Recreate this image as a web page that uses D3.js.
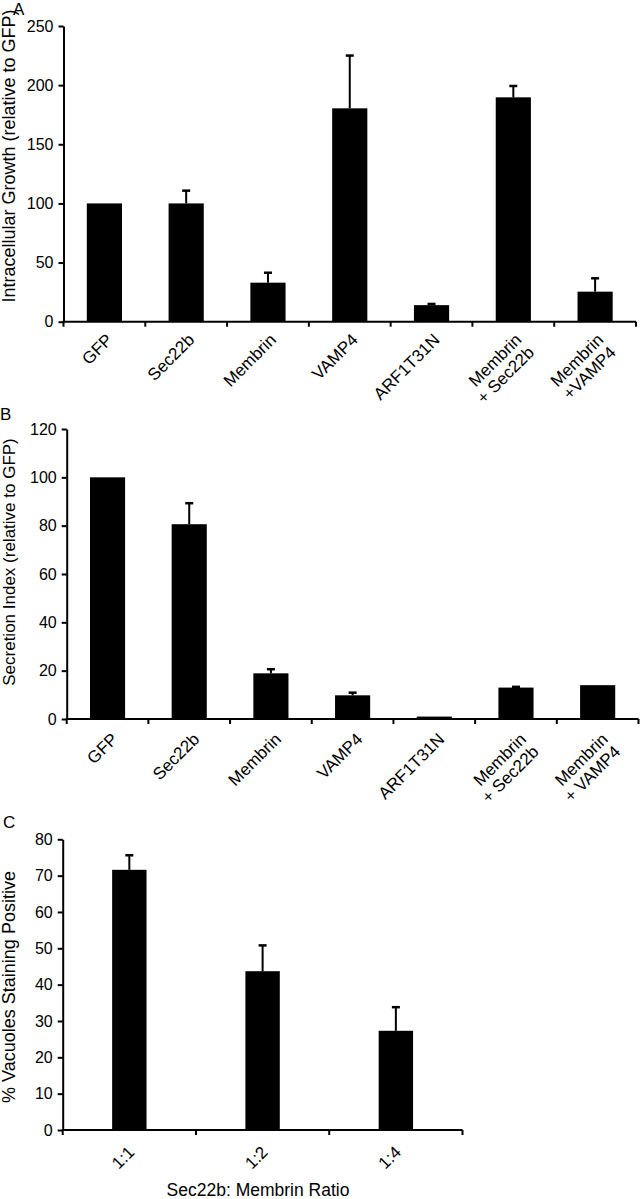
<!DOCTYPE html>
<html>
<head>
<meta charset="utf-8">
<script src="https://cdn.jsdelivr.net/npm/d3@7"></script>
<style>
  html, body { margin: 0; padding: 0; background: #fff; }
  svg { display: block; font-family: "Liberation Sans", Arial, sans-serif; }
</style>
</head>
<body>
<svg id="chart" width="641" height="1199"></svg>
<script>
// ---- Data ----
const labelsA = ["GFP", "Sec22b", "Membrin", "VAMP4", "ARF1T31N", "Membrin|+ Sec22b", "Membrin|+VAMP4"];
const valuesA = [100, 100, 33, 180.4, 14, 189.7, 25.4];
const errorsA = [0, 10.8, 8.4, 44.6, 1, 9.6, 11.3];
const ticksA = [0, 50, 100, 150, 200, 250];

const labelsB = ["GFP", "Sec22b", "Membrin", "VAMP4", "ARF1T31N", "Membrin|+ Sec22b", "Membrin|+ VAMP4"];
const valuesB = [100, 80.6, 18.9, 9.8, 1, 13, 14];
const errorsB = [0, 8.7, 1.7, 1.1, 0, 0.3, 0];
const ticksB = [0, 20, 40, 60, 80, 100, 120];

const labelsC = ["1:1", "1:2", "1:4"];
const valuesC = [71.6, 43.7, 27.3];
const errorsC = [4, 7.1, 6.5];
const ticksC = [0, 10, 20, 30, 40, 50, 60, 70, 80];

const titleA = "Intracellular Growth (relative to GFP)";
const titleB = "Secretion Index (relative to GFP)";
const titleC = "% Vacuoles Staining Positive";
const xTitleC = "Sec22b: Membrin Ratio";

const svg = d3.select("#chart");

function panel(o) {
  const g = svg.append("g");
  const y = d3.scaleLinear().domain([0, d3.max(o.ticks)]).range([o.y0, o.y1]);
  const x = d3.scaleBand().domain(d3.range(o.labels.length))
    .range([o.x0, o.x1]).paddingInner(o.pad).paddingOuter(o.pad / 2);
  const bw = x.bandwidth(), step = x.step();

  // bars
  g.selectAll("rect.bar").data(o.values).join("rect")
    .attr("x", (d, i) => x(i))
    .attr("y", d => y(d))
    .attr("width", bw)
    .attr("height", d => o.y0 - y(d))
    .attr("fill", "#000");

  // error bars
  const eb = o.values.map((v, i) => ({ i, v, e: o.errors[i] })).filter(d => d.e > 0);
  g.selectAll("line.err").data(eb).join("line")
    .attr("x1", d => x(d.i) + bw / 2).attr("x2", d => x(d.i) + bw / 2)
    .attr("y1", d => y(d.v)).attr("y2", d => y(d.v + d.e))
    .attr("stroke", "#000").attr("stroke-width", 2);
  g.selectAll("line.cap").data(eb).join("line")
    .attr("x1", d => x(d.i) + bw / 2 - 4).attr("x2", d => x(d.i) + bw / 2 + 4)
    .attr("y1", d => y(d.v + d.e)).attr("y2", d => y(d.v + d.e))
    .attr("stroke", "#000").attr("stroke-width", 2.5);

  // y axis
  const ya = g.append("g").attr("transform", `translate(${o.x0},0)`)
    .call(d3.axisLeft(y).tickValues(o.ticks).tickSize(5).tickPadding(5).tickSizeOuter(0));
  ya.select(".domain").attr("stroke", "#000").attr("stroke-width", 2);
  ya.selectAll(".tick line").attr("stroke", "#000").attr("stroke-width", 2);
  ya.selectAll(".tick text").attr("fill", "#000").style("font-size", "16px")
    .style("font-family", '"Liberation Sans", Arial, sans-serif');

  // x axis line and boundary ticks
  g.append("line").attr("x1", o.x0 - 1).attr("x2", o.x1)
    .attr("y1", o.y0).attr("y2", o.y0).attr("stroke", "#000").attr("stroke-width", 2);
  const bounds = d3.range(o.labels.length + 1).map(i =>
    i < o.labels.length ? x(i) - step * o.pad / 2 : x(i - 1) + bw + step * o.pad / 2);
  g.selectAll("line.xt").data(bounds).join("line")
    .attr("x1", d => d).attr("x2", d => d)
    .attr("y1", o.y0).attr("y2", o.y0 + 5)
    .attr("stroke", "#000").attr("stroke-width", 2);

  // category labels (rotated)
  o.labels.forEach((lab, i) => {
    const t = g.append("text")
      .attr("transform", `translate(${x(i) + bw / 2 + o.ldx},${o.y0 + o.ldy}) rotate(-45)`)
      .attr("text-anchor", "end")
      .style("font-size", "17px").attr("fill", "#000");
    lab.split("|").forEach((line, k) => {
      t.append("tspan").attr("x", 0).attr("dy", k === 0 ? "0.35em" : "1.05em").text(line);
    });
  });

  // y title
  g.append("text")
    .attr("transform", `translate(${o.tx},${o.ty}) rotate(-90)`)
    .attr("text-anchor", "middle")
    .style("font-size", o.tsize + "px").attr("fill", "#000")
    .text(o.title);

  // panel letter
  g.append("text").attr("x", o.lx).attr("y", o.ly)
    .style("font-size", "17px").attr("fill", "#000").text(o.letter);
  return { x, y };
}

panel({ labels: labelsA, values: valuesA, errors: errorsA, ticks: ticksA,
  x0: 63.5, x1: 636, y0: 321.7, y1: 26, pad: 0.57, ldx: 5, ldy: 15,
  title: titleA, tx: 15, ty: 156, tsize: 18, letter: "A", lx: 13, ly: 15 });

panel({ labels: labelsB, values: valuesB, errors: errorsB, ticks: ticksB,
  x0: 66.7, x1: 638.5, y0: 719, y1: 429, pad: 0.57, ldx: 7, ldy: 17,
  title: titleB, tx: 15, ty: 562, tsize: 17, letter: "B", lx: 0, ly: 420 });

panel({ labels: labelsC, values: valuesC, errors: errorsC, ticks: ticksC,
  x0: 62.7, x1: 462.5, y0: 1130, y1: 839.3, pad: 0.742, ldx: 2, ldy: 19,
  title: titleC, tx: 15, ty: 987, tsize: 18, letter: "C", lx: 3, ly: 828 });

svg.append("text").attr("x", 258).attr("y", 1196)
  .attr("text-anchor", "middle").style("font-size", "17.5px").attr("fill", "#000")
  .text(xTitleC);
</script>
</body>
</html>
